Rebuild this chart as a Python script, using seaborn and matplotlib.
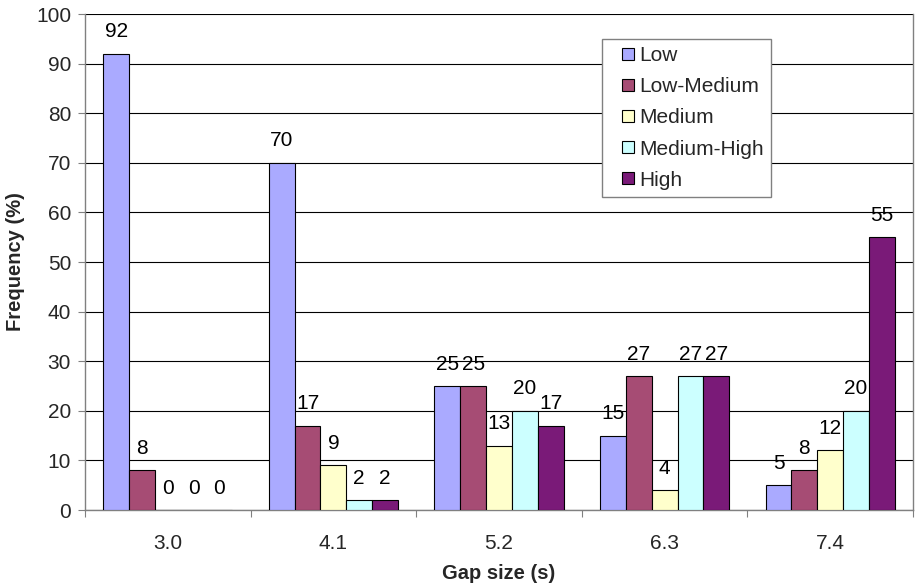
import matplotlib
matplotlib.use('Agg')
import matplotlib.pyplot as plt
from matplotlib.lines import Line2D
import seaborn as sns
import pandas as pd

# values
gap_sizes = ['3.0', '4.1', '5.2', '6.3', '7.4']
levels = ['Low', 'Low-Medium', 'Medium', 'Medium-High', 'High']
low = [92, 70, 25, 15, 5]
low_medium = [8, 17, 25, 27, 8]
medium = [0, 9, 13, 4, 12]
medium_high = [0, 2, 20, 27, 20]
high = [0, 2, 17, 27, 55]
colors = ['#AAAAFF', '#A64C74', '#FFFFCC', '#CCFFFF', '#7A1A78']

rows = []
for lvl, vals in zip(levels, [low, low_medium, medium, medium_high, high]):
    for g, v in zip(gap_sizes, vals):
        rows.append({'gap': g, 'level': lvl, 'freq': v})
df = pd.DataFrame(rows)

sns.set_style('white')
plt.rcParams['font.family'] = ['Liberation Sans', 'DejaVu Sans']
FS = 15

fig = plt.figure(figsize=(9.16, 5.86), dpi=100)
ax = fig.add_axes([85 / 916, 1 - 510 / 586, 828 / 916, 496 / 586])

sns.barplot(data=df, x='gap', y='freq', hue='level', order=gap_sizes,
            hue_order=levels, palette=colors, saturation=1, width=0.78,
            edgecolor='black', linewidth=0.8, ax=ax, zorder=3, legend=False)

for cont in ax.containers:
    ax.bar_label(cont, padding=9, fontsize=FS, color='black')

ax.set_ylim(0, 100)
ax.set_xlim(-0.5, 4.5)
ax.set_yticks(range(0, 101, 10))
ax.yaxis.grid(True, color='black', linewidth=0.8, zorder=0)
ax.set_axisbelow(True)

# category boundaries get tick marks, labels sit between them
ax.set_xticks([i - 0.5 for i in range(6)])
ax.set_xticklabels([])
ax.set_xticks(range(5), minor=True)
ax.set_xticklabels(gap_sizes, minor=True, fontsize=FS)
ax.tick_params(axis='x', which='major', direction='out', length=5, color='#808080', bottom=True)
ax.tick_params(axis='x', which='minor', length=0, pad=17)
ax.tick_params(axis='y', direction='out', length=5, color='#808080', left=True, labelsize=FS, pad=5)

for side in ['left', 'bottom', 'right']:
    ax.spines[side].set_color('#808080')
    ax.spines[side].set_linewidth(1)
ax.spines['top'].set_visible(False)

ax.set_xlabel('Gap size (s)', fontsize=FS - 0.5, fontweight='bold', labelpad=8)
ax.set_ylabel('Frequency (%)', fontsize=FS - 0.5, fontweight='bold', labelpad=8)

handles = [Line2D([], [], linestyle='none', marker='s', markersize=8,
                  markerfacecolor=c, markeredgecolor='black', markeredgewidth=0.8)
           for c in colors]
leg = ax.legend(handles, levels, loc='upper left',
                bbox_to_anchor=(602 / 916, 1 - 39 / 586), bbox_transform=fig.transFigure,
                fontsize=FS, frameon=True, fancybox=False, edgecolor='#808080',
                handlelength=1.75, handletextpad=-0.3,
                labelspacing=0.58, borderpad=0.35, borderaxespad=0)
leg.get_frame().set_linewidth(1)
leg.get_frame().set_alpha(1)

fig.savefig('out.png', dpi=100)
